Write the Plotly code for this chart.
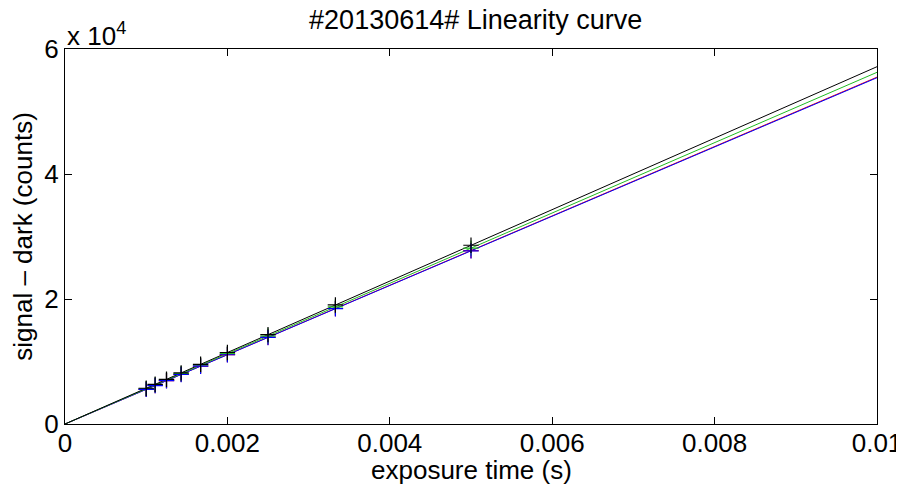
import plotly.graph_objects as go

# exposure times of the measured frames (s)
exposure = [0.001, 0.00111, 0.00125, 0.00143, 0.00167, 0.002, 0.0025, 0.00333, 0.005]

# signal - dark (counts) for each channel
sig_black = [5720, 6350, 7150, 8180, 9550, 11440, 14300, 19050, 28600]
sig_green = [5630, 6250, 7030, 8050, 9400, 11250, 14070, 18740, 28130]
sig_red = [5550, 6160, 6940, 7940, 9270, 11100, 13880, 18480, 27750]
sig_blue = [5540, 6150, 6930, 7920, 9250, 11080, 13850, 18450, 27700]

# linear fits through the origin, evaluated at the ends of the axis
fit_t = [0, 0.01]
fit_black = [0, 57170]
fit_green = [0, 56270]
fit_red = [0, 55500]
fit_blue = [0, 55410]

xticks = [0, 0.002, 0.004, 0.006, 0.008, 0.01]
xticklabels = ["0", "0.002", "0.004", "0.006", "0.008", "0.01"]
yticks = [0, 20000, 40000, 60000]
yticklabels = ["0", "2", "4", "6"]

FONT = "Liberation Sans, Arial, Helvetica, sans-serif"
FS = 26

fig = go.Figure()

# fit lines
for y, col in [(fit_red, "red"), (fit_blue, "blue"), (fit_green, "#22bb22"), (fit_black, "black")]:
    fig.add_trace(go.Scatter(x=fit_t, y=y, mode="lines",
                             line=dict(color=col, width=1), showlegend=False))

# measured points
for y, col in [(sig_red, "red"), (sig_green, "#22bb22"), (sig_blue, "blue"), (sig_black, "black")]:
    fig.add_trace(go.Scatter(x=exposure, y=y, mode="markers",
                             marker=dict(symbol="cross-thin", size=11,
                                         line=dict(color=col, width=1.2)),
                             showlegend=False))

axis_common = dict(
    showgrid=False, zeroline=False, automargin=False,
    showline=True, linecolor="black", linewidth=1, mirror="ticks",
    ticks="inside", ticklen=7, tickcolor="black", tickwidth=1,
    tickfont=dict(family=FONT, size=FS, color="black"),
)

# page has an 8px body margin, so the figure is drawn 8px smaller
fig.update_layout(
    width=896, height=484,
    margin=dict(l=57, r=27, t=41, b=68),
    paper_bgcolor="white", plot_bgcolor="white",
    font=dict(family=FONT, size=FS, color="black"),
    title=dict(text="#20130614# Linearity curve", x=0.522, xanchor="center",
               yref="container", y=0.996, yanchor="top", pad=dict(t=0, b=0),
               font=dict(family=FONT, size=27, color="black")),
    xaxis=dict(range=[0, 0.01], tickvals=xticks, ticktext=xticklabels,
               ticklabelstandoff=-4, **axis_common),
    yaxis=dict(range=[0, 60000], tickvals=yticks, ticktext=yticklabels,
               title=dict(text="signal \u2013 dark (counts)", standoff=4,
                          font=dict(family=FONT, size=FS)),
               **axis_common),
    annotations=[
        dict(text="x 10<sup>4</sup>", xref="paper", yref="paper",
             x=0, y=1, xanchor="left", yanchor="bottom", yshift=-4,
             showarrow=False, font=dict(family=FONT, size=FS)),
        dict(text="exposure time (s)", xref="paper", yref="paper",
             x=0.5, y=0, xanchor="center", yanchor="middle", yshift=-46,
             showarrow=False, font=dict(family=FONT, size=FS)),
    ],
)

fig.write_html("out.html")
